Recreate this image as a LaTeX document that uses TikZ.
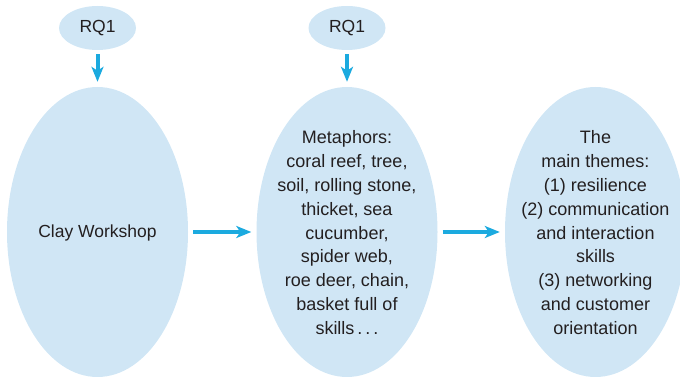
\documentclass[tikz,border=0pt]{standalone}
\usepackage{fontspec}
\setmainfont{Liberation Sans}
\usetikzlibrary{shapes.geometric,arrows.meta}
\definecolor{bubble}{RGB}{208,230,245}
\definecolor{arrowblue}{RGB}{27,170,223}
\definecolor{ink}{RGB}{35,31,32}
\begin{document}
\begin{tikzpicture}[x=1pt,y=-1pt,
  txt/.style={inner sep=0pt, align=center, text=ink, font=\fontsize{18}{23.9}\selectfont},
  big/.style={ellipse, fill=bubble, draw=none, inner sep=0pt, minimum width=181pt, minimum height=290pt},
  small/.style={ellipse, fill=bubble, draw=none, inner sep=0pt, minimum width=77pt, minimum height=44pt, text=ink, font=\fontsize{17.5}{23.9}\selectfont},
  flow/.style={draw=arrowblue, line width=4pt, -{Stealth[length=15pt,width=12pt,inset=4pt]}}
]
\useasboundingbox (0,0) rectangle (680,377);
\clip (0,0) rectangle (680,377);

\node[small] (rqa) at (97.5,28) {RQ1};
\node[small] (rqb) at (347,28) {RQ1};

\node[big] (cw) at (97.5,232) {};
\node[big] (met) at (347,232) {};
\node[big] (th) at (595.5,232) {};

\node[txt, font=\fontsize{17.5}{23.9}\selectfont] (cwt) at (97.5,232.5) {Clay Workshop};
\node[txt, anchor=north] (mett) at (347,130.2) {Metaphors:\\coral reef, tree,\\soil, rolling stone,\\thicket, sea\\cucumber,\\spider web,\\roe deer, chain,\\basket full of\\skills\kern3pt.\kern3pt.\kern3pt.};
\node[txt, anchor=north] (tht) at (595.5,130.2) {The\\main themes:\\(1) resilience\\(2) communication\\and interaction\\skills\\(3) networking\\and customer\\orientation};

\draw[flow, shorten <=4pt, shorten >=5pt] (rqa) -- (cw);
\draw[flow, shorten <=4pt, shorten >=5pt] (rqb) -- (met);
\draw[flow, shorten <=5pt, shorten >=5pt] (cw) -- (met);
\draw[flow, shorten <=5pt, shorten >=5pt] (met) -- (th);
\end{tikzpicture}
\end{document}
